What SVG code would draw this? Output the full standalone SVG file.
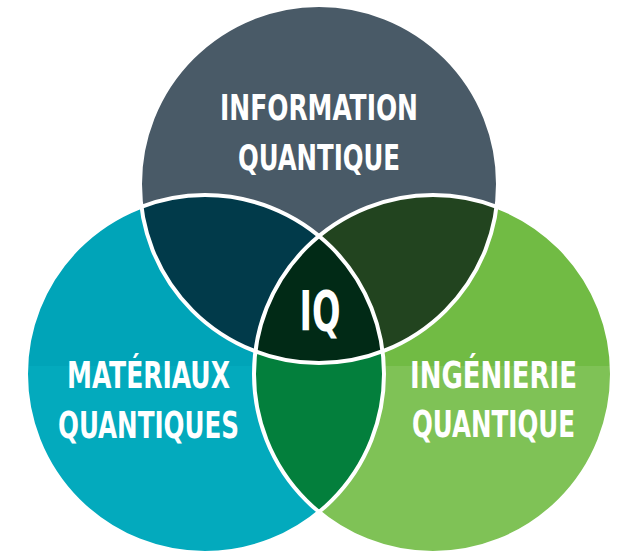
<svg xmlns="http://www.w3.org/2000/svg" width="621" height="556" viewBox="0 0 621 556">
  <style>
    .lbl { font-family: "DejaVu Sans Condensed", "DejaVu Sans", "Liberation Sans", sans-serif; font-weight: bold; font-stretch: condensed; fill: #ffffff; text-anchor: middle; }
    .ring { fill: none; stroke: #ffffff; stroke-width: 4; }
  </style>
  <defs>
    <clipPath id="clipTop"><circle cx="319" cy="184" r="179"/></clipPath>
    <clipPath id="clipLeft"><circle cx="205" cy="374" r="179"/></clipPath>
    <clipPath id="clipRight"><circle cx="433" cy="374" r="179"/></clipPath>
    <linearGradient id="gLeft" x1="0" y1="195" x2="0" y2="553" gradientUnits="userSpaceOnUse">
      <stop offset="0" stop-color="#00a4b8"/>
      <stop offset="0.478" stop-color="#00a4b8"/>
      <stop offset="0.478" stop-color="#03aabd"/>
      <stop offset="1" stop-color="#03aabd"/>
    </linearGradient>
    <linearGradient id="gRight" x1="0" y1="195" x2="0" y2="553" gradientUnits="userSpaceOnUse">
      <stop offset="0" stop-color="#71bb44"/>
      <stop offset="0.478" stop-color="#71bb44"/>
      <stop offset="0.478" stop-color="#7fc256"/>
      <stop offset="1" stop-color="#7fc256"/>
    </linearGradient>
  </defs>

  <g id="node-materiaux">
    <circle cx="205" cy="374" r="179" fill="url(#gLeft)"/>
  </g>
  <g id="node-ingenierie">
    <circle cx="433" cy="374" r="179" fill="url(#gRight)"/>
  </g>
  <g id="node-information">
    <circle cx="319" cy="184" r="179" fill="#495a67"/>
  </g>

  <g id="overlaps">
    <circle cx="319" cy="184" r="179" fill="#013a4a" clip-path="url(#clipLeft)"/>
    <circle cx="319" cy="184" r="179" fill="#22441f" clip-path="url(#clipRight)"/>
    <circle cx="205" cy="374" r="179" fill="#037f3c" clip-path="url(#clipRight)"/>
    <g clip-path="url(#clipRight)">
      <circle cx="319" cy="184" r="179" fill="#012a16" clip-path="url(#clipLeft)"/>
    </g>
  </g>

  <g id="connectors">
    <circle class="ring" cx="319" cy="184" r="179"/>
    <circle class="ring" cx="205" cy="374" r="179"/>
    <circle class="ring" cx="433" cy="374" r="179"/>
  </g>

  <g id="labels">
    <text class="lbl" x="319" y="120" font-size="36" textLength="198" lengthAdjust="spacingAndGlyphs">INFORMATION</text>
    <text class="lbl" x="319" y="170" font-size="36" textLength="162" lengthAdjust="spacingAndGlyphs">QUANTIQUE</text>
    <text class="lbl" x="148.5" y="388" font-size="38" textLength="163" lengthAdjust="spacingAndGlyphs">MATÉRIAUX</text>
    <text class="lbl" x="148.5" y="438" font-size="38" textLength="181" lengthAdjust="spacingAndGlyphs">QUANTIQUES</text>
    <text class="lbl" x="493.5" y="388" font-size="38" textLength="167" lengthAdjust="spacingAndGlyphs">INGÉNIERIE</text>
    <text class="lbl" x="493.5" y="437" font-size="38" textLength="163" lengthAdjust="spacingAndGlyphs">QUANTIQUE</text>
    <text class="lbl" x="320" y="330" font-size="55" textLength="41" lengthAdjust="spacingAndGlyphs">IQ</text>
  </g>
</svg>
